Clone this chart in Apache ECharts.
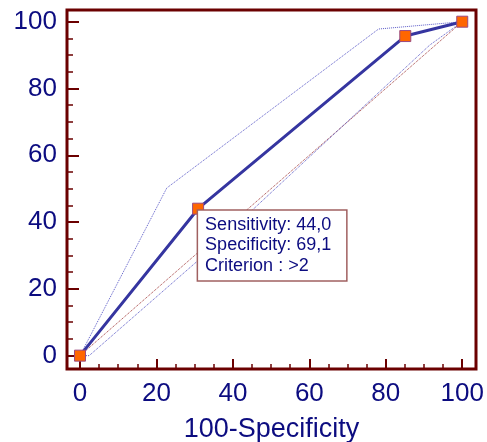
<!DOCTYPE html>
<html>
<head>
<meta charset="utf-8">
<script src="https://cdn.jsdelivr.net/npm/echarts@6/dist/echarts.min.js"></script>
<style>
  html, body { margin: 0; padding: 0; background: #fff; }
  #main { width: 487px; height: 442px; }
</style>
</head>
<body>
<div id="main"></div>
<script>
// ROC curve: x = 100-Specificity, y = Sensitivity
const rocX = [0, 30.9, 85.1, 100];
const rocY = [0, 44.0, 95.7, 100];
// confidence bounds
const upperX = [0, 22.7, 78.1, 100];
const upperY = [0, 50.2, 97.8, 100];
const lowerX = [0, 2.4, 30.9, 91.5, 100];
const lowerY = [0, 0, 28.5, 93.0, 100];
// diagonal reference line
const diagX = [0, 100];
const diagY = [0, 100];

const majorTicks = [0, 20, 40, 60, 80, 100];
const minorTicks = [5, 10, 15, 25, 30, 35, 45, 50, 55, 65, 70, 75, 85, 90, 95];

const criterionIndex = 1;
const sensitivity = '44,0';
const specificity = '69,1';
const criterion = '>2';

const font = 'Liberation Sans, Arial, sans-serif';
const frame = '#6b0000';
const navy = '#0c0c80';

const pairs = (xs, ys) => xs.map((x, i) => [x, ys[i]]);

const chart = echarts.init(document.getElementById('main'));

function axis(min, max, major, len, isX) {
  return {
    type: 'value',
    min: min,
    max: max,
    position: isX ? 'bottom' : 'left',
    splitLine: { show: false },
    axisLine: { show: false, onZero: false },
    axisTick: {
      show: true,
      inside: true,
      length: len,
      customValues: major ? majorTicks : minorTicks,
      lineStyle: { color: frame, width: major ? 2 : 1.5 },
    },
    axisLabel: {
      show: major,
      customValues: majorTicks,
      margin: isX ? 12 : 10,
      color: navy,
      fontSize: 26,
      fontFamily: font,
    },
  };
}

const xMain = axis(-3.4, 103.6, true, 10, true);
xMain.name = '100-Specificity';
xMain.nameLocation = 'middle';
xMain.nameGap = 47;
xMain.nameTextStyle = { color: navy, fontSize: 27, fontFamily: font };

const rocData = pairs(rocX, rocY).map((p, i) => {
  if (i !== criterionIndex) return p;
  return {
    value: p,
    label: {
      show: true,
      position: [6, 8],
      align: 'left',
      verticalAlign: 'top',
      formatter: 'Sensitivity: ' + sensitivity + '\nSpecificity: ' + specificity + '\nCriterion : ' + criterion,
      backgroundColor: '#fff',
      borderColor: '#a06060',
      borderWidth: 1.5,
      padding: [4, 7, 4, 7],
      width: 134,
      lineHeight: 20.5,
      fontSize: 18,
      fontFamily: font,
      color: navy,
    },
  };
});

const option = {
  animation: false,
  backgroundColor: '#fff',
  grid: {
    left: 67,
    right: 11,
    top: 10,
    bottom: 73,
    outerBoundsMode: 'none',
    containLabel: false,
    show: true,
    borderColor: frame,
    borderWidth: 3,
    backgroundColor: '#fff',
  },
  xAxis: [xMain, axis(-3.4, 103.6, false, 5, true)],
  yAxis: [axis(-4.0, 103.5, true, 12, false), axis(-4.0, 103.5, false, 6, false)],
  series: [
    {
      type: 'line',
      data: pairs(diagX, diagY),
      symbol: 'none',
      lineStyle: { color: '#a03838', width: 1, type: 'dotted' },
    },
    {
      type: 'line',
      data: pairs(upperX, upperY),
      symbol: 'none',
      lineStyle: { color: '#5a5ac8', width: 1, type: 'dotted' },
    },
    {
      type: 'line',
      data: pairs(lowerX, lowerY),
      symbol: 'none',
      lineStyle: { color: '#5a5ac8', width: 1, type: 'dotted' },
    },
    {
      type: 'line',
      z: 3,
      data: rocData,
      symbol: 'rect',
      symbolSize: 11,
      lineStyle: { color: '#3535a0', width: 3 },
      itemStyle: { color: '#ff6600', borderColor: '#9a4a80', borderWidth: 1 },
    },
  ],
};

chart.setOption(option);
</script>
</body>
</html>
